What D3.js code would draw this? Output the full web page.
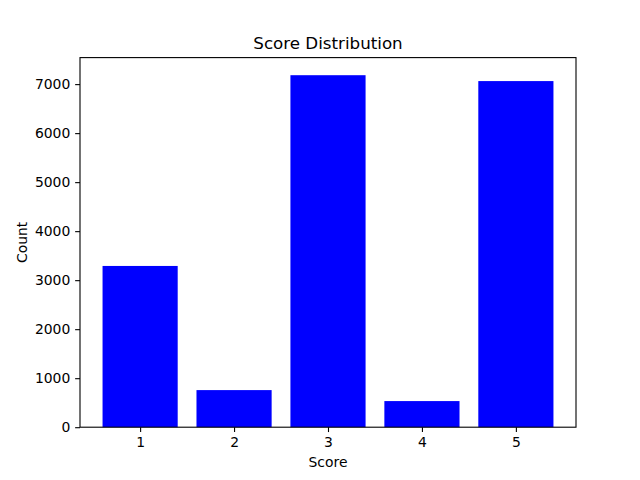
<!DOCTYPE html>
<html>
<head>
<meta charset="utf-8">
<script src="https://cdn.jsdelivr.net/npm/d3@7"></script>
<style>
  body { margin: 0; background: #fff; }
  text { font-family: "DejaVu Sans", sans-serif; fill: #000; }
</style>
</head>
<body>
<div id="chart"></div>
<script>
// Data
const scores = [1, 2, 3, 4, 5];
const counts = [3290, 757, 7182, 533, 7062];
const yTicks = [0, 1000, 2000, 3000, 4000, 5000, 6000, 7000];

const width = 640, height = 480;
const margin = { left: 80, right: 64, top: 57.6, bottom: 52.8 };
const plotW = width - margin.left - margin.right;
const plotH = height - margin.top - margin.bottom;
const barWidth = 0.8;

const svg = d3.select("#chart")
  .append("svg")
  .attr("width", width)
  .attr("height", height);

// matplotlib style 5% margins on x
const xLo = scores[0] - barWidth / 2, xHi = scores[scores.length - 1] + barWidth / 2;
const xPad = (xHi - xLo) * 0.05;
const x = d3.scaleLinear()
  .domain([xLo - xPad, xHi + xPad])
  .range([margin.left, margin.left + plotW]);

const y = d3.scaleLinear()
  .domain([0, d3.max(counts) * 1.05])
  .range([margin.top + plotH, margin.top]);

// bars
svg.append("g")
  .selectAll("rect")
  .data(scores)
  .join("rect")
  .attr("x", (d) => x(d - barWidth / 2))
  .attr("width", (d) => x(d + barWidth / 2) - x(d - barWidth / 2))
  .attr("y", (d, i) => y(counts[i]))
  .attr("height", (d, i) => y(0) - y(counts[i]))
  .attr("fill", "#0000ff");

// axes
const tickLen = 4.86;
const xAxis = svg.append("g")
  .attr("transform", `translate(0,${margin.top + plotH})`)
  .call(d3.axisBottom(x).tickValues(scores).tickFormat(d3.format("d"))
    .tickSize(tickLen).tickPadding(4.86).tickSizeOuter(0));

const yAxis = svg.append("g")
  .attr("transform", `translate(${margin.left},0)`)
  .call(d3.axisLeft(y).tickValues(yTicks).tickFormat(d3.format("d"))
    .tickSize(tickLen).tickPadding(4.86).tickSizeOuter(0));

[xAxis, yAxis].forEach((g) => {
  g.select(".domain").remove();
  g.selectAll("line").attr("stroke", "#000").attr("stroke-width", 1.1);
  g.selectAll("text")
    .style("font-family", "'DejaVu Sans', sans-serif")
    .style("font-size", "13.9px")
    .attr("fill", "#000");
});

// frame
svg.append("rect")
  .attr("x", margin.left)
  .attr("y", margin.top)
  .attr("width", plotW)
  .attr("height", plotH)
  .attr("fill", "none")
  .attr("stroke", "#000")
  .attr("stroke-width", 1.1);

// title and labels
svg.append("text")
  .attr("x", margin.left + plotW / 2)
  .attr("y", 49)
  .attr("text-anchor", "middle")
  .style("font-size", "16.7px")
  .text("Score Distribution");

svg.append("text")
  .attr("x", margin.left + plotW / 2)
  .attr("y", 467)
  .attr("text-anchor", "middle")
  .style("font-size", "13.9px")
  .text("Score");

svg.append("text")
  .attr("transform", `translate(27,${margin.top + plotH / 2}) rotate(-90)`)
  .attr("text-anchor", "middle")
  .style("font-size", "13.9px")
  .text("Count");
</script>
</body>
</html>
